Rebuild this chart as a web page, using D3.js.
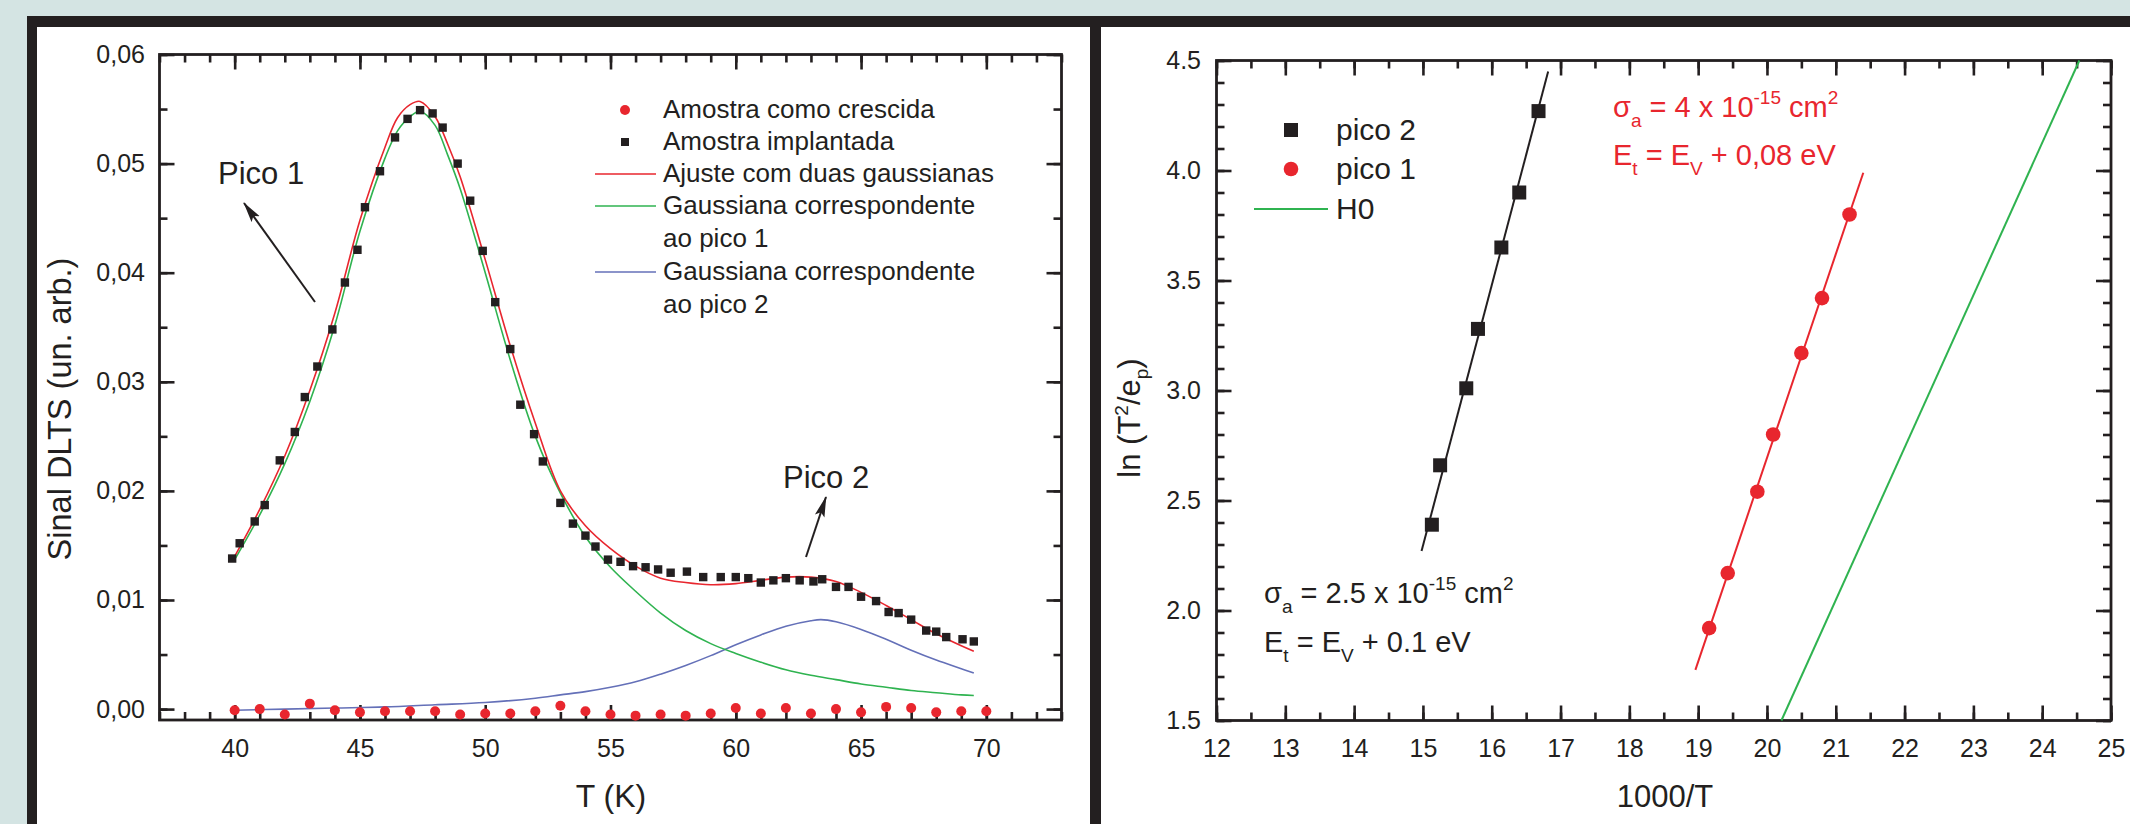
<!DOCTYPE html>
<html>
<head>
<meta charset="utf-8">
<script src="https://cdn.jsdelivr.net/npm/d3@7"></script>
<style>
  html, body { margin: 0; padding: 0; background: #d4e4e3; }
  svg { display: block; font-family: "Liberation Sans", Arial, sans-serif; }
</style>
</head>
<body>
<svg id="fig" width="2130" height="824"></svg>
<script>
// ---------- left panel data: DLTS signal vs T ----------
const tempImplant = [39.9, 40.2, 40.8, 41.2, 41.8, 42.4, 42.8, 43.3, 43.9, 44.4, 44.9, 45.2, 45.8, 46.4, 46.9,
  47.4, 47.9, 48.3, 48.9, 49.4, 49.9, 50.4, 51.0, 51.4, 51.95, 52.3, 53.0, 53.5, 54.0, 54.4, 54.9, 55.4, 55.9,
  56.4, 56.9, 57.4, 58.05, 58.7, 59.4, 60.0, 60.5, 61.0, 61.5, 62.0, 62.55, 63.1, 63.45, 64.0, 64.5, 65.0, 65.6,
  66.1, 66.5, 67.0, 67.6, 68.0, 68.4, 69.05, 69.5];
const dltsImplant = [0.0138, 0.0152, 0.0172, 0.0187, 0.0228, 0.0254, 0.0286, 0.0314, 0.0348, 0.0391, 0.0421,
  0.0460, 0.0493, 0.0524, 0.0541, 0.0549, 0.0546, 0.0533, 0.0500, 0.0466, 0.0420, 0.0373, 0.0330, 0.0279, 0.0252,
  0.0227, 0.0189, 0.0170, 0.0159, 0.0149, 0.0137, 0.0135, 0.0131, 0.0130, 0.0128, 0.0125, 0.0126, 0.0121, 0.0121,
  0.0121, 0.0120, 0.0116, 0.0118, 0.0120, 0.0118, 0.0117, 0.0119, 0.0112, 0.0112, 0.0103, 0.0099, 0.0089, 0.0088,
  0.0082, 0.0072, 0.0071, 0.0066, 0.0064, 0.0062];

const tempGrown = [40, 41, 42, 43, 44, 45, 46, 47, 48, 49, 50, 51, 52, 53, 54, 55, 56, 57, 58, 59, 60,
  61, 62, 63, 64, 65, 66, 67, 68, 69, 70];
const dltsGrown = [-0.0001, 0.0000, -0.0005, 0.0005, -0.0001, -0.0003, -0.0002, -0.0002, -0.0002, -0.0005, -0.0004,
  -0.0004, -0.0002, 0.0003, -0.0002, -0.0005, -0.0006, -0.0005, -0.0006, -0.0004, 0.0001, -0.0004, 0.0001,
  -0.0004, 0.0000, -0.0003, 0.0002, 0.0001, -0.0003, -0.0002, -0.0002];

// fit curves
const tempFit = [40, 41, 42, 43, 44, 45, 46, 46.5, 47, 47.4, 48, 48.5, 49, 50, 51, 52, 53, 54, 55, 56, 57, 58,
  59, 60, 61, 62, 63, 64, 65, 66, 67, 68, 69, 69.5];
const fitTotal = [0.0140, 0.0183, 0.0232, 0.0292, 0.0363, 0.0448, 0.0515, 0.0542, 0.0554, 0.0557, 0.0543, 0.0518,
  0.0488, 0.0412, 0.0333, 0.0262, 0.0200, 0.0168, 0.0147, 0.0131, 0.0120, 0.0116, 0.0114, 0.0115, 0.0118, 0.0121,
  0.0121, 0.0117, 0.0107, 0.0095, 0.0082, 0.0069, 0.0058, 0.0053];
const fitPico1 = [0.0137, 0.0178, 0.0225, 0.0282, 0.0352, 0.0438, 0.0505, 0.0530, 0.0543, 0.0548, 0.0535, 0.0508,
  0.0477, 0.0400, 0.0320, 0.0250, 0.0198, 0.0158, 0.0130, 0.0108, 0.0088, 0.0072, 0.0060, 0.0051, 0.0043, 0.0036,
  0.0031, 0.0027, 0.0023, 0.0020, 0.0017, 0.0015, 0.0013, 0.00125];
const tempPico2 = [40, 42, 44, 46, 48, 50, 52, 53, 54, 55, 56, 57, 58, 59, 60, 61, 62, 63, 63.4, 64, 65, 66, 67,
  68, 69, 69.5];
const fitPico2 = [-0.0001, 0.0000, 0.0001, 0.0002, 0.0004, 0.0006, 0.0010, 0.0013, 0.0016, 0.0020, 0.0025, 0.0032,
  0.0040, 0.0049, 0.0059, 0.0068, 0.0076, 0.0081, 0.0082, 0.0080, 0.0073, 0.0064, 0.0054, 0.0045, 0.0037, 0.0033];

const leftXTicks = [40, 45, 50, 55, 60, 65, 70];
const leftYTicks = [0, 0.01, 0.02, 0.03, 0.04, 0.05, 0.06];
const leftLegend = ["Amostra como crescida", "Amostra implantada", "Ajuste com duas gaussianas",
  "Gaussiana correspondente", "ao pico 1", "Gaussiana correspondente", "ao pico 2"];

// ---------- right panel data: Arrhenius plot ----------
const pico2X = [15.13, 15.25, 15.63, 15.80, 16.14, 16.40, 16.68];
const pico2Y = [2.39, 2.66, 3.01, 3.28, 3.65, 3.90, 4.27];
const pico1X = [19.16, 19.43, 19.86, 20.09, 20.50, 20.80, 21.20];
const pico1Y = [1.92, 2.17, 2.54, 2.80, 3.17, 3.42, 3.80];
const pico2FitX = [14.98, 16.82], pico2FitY = [2.27, 4.45];
const pico1FitX = [18.96, 21.40], pico1FitY = [1.73, 3.99];
const h0X = [20.21, 24.54], h0Y = [1.5, 4.5];

const rightXTicks = [12, 13, 14, 15, 16, 17, 18, 19, 20, 21, 22, 23, 24, 25];
const rightYTicks = [1.5, 2.0, 2.5, 3.0, 3.5, 4.0, 4.5];
const rightLegend = ["pico 2", "pico 1", "H0"];

// ---------- colours ----------
const INK = '#231f20';
const RED = '#e8262e';
const GREEN = '#2fb350';
const BLUE = '#6470b8';

const svg = d3.select('#fig');
const zip = (xs, ys) => xs.map((x, i) => [x, ys[i]]);

// page background and panel frames
svg.append('rect').attr('width', 2130).attr('height', 824).attr('fill', '#d4e4e3');
svg.append('rect').attr('x', 27).attr('y', 16).attr('width', 2103).attr('height', 808).attr('fill', INK);
svg.append('rect').attr('x', 37).attr('y', 27).attr('width', 1053).attr('height', 797).attr('fill', '#fff');
svg.append('rect').attr('x', 1101).attr('y', 27).attr('width', 1029).attr('height', 797).attr('fill', '#fff');

// arrow head
svg.append('defs').append('marker')
  .attr('id', 'arrow').attr('markerUnits', 'userSpaceOnUse')
  .attr('markerWidth', 22).attr('markerHeight', 12)
  .attr('refX', 20).attr('refY', 6).attr('orient', 'auto')
  .append('path').attr('d', 'M0,1 L21,6 L0,11 L4,6 Z').attr('fill', INK);

// draws the boxed axes with inward ticks
function drawAxes(g, x, y, xMajor, xMinor, yMajor, yMinor, xFmt, yFmt, yPad) {
  const [x0, x1] = x.range();
  const [y0, y1] = y.range();
  const style = sel => {
    sel.select('.domain').remove();
    sel.selectAll('line').attr('stroke', INK).attr('stroke-width', 2.6);
    sel.attr('font-family', null).attr('font-size', 25);
    sel.selectAll('text').attr('fill', INK);
  };
  // minor ticks on all four sides
  g.append('g').attr('transform', `translate(0,${y0})`)
    .call(d3.axisBottom(x).tickValues(xMinor).tickSize(-8).tickFormat('')).call(style);
  g.append('g').attr('transform', `translate(0,${y1})`)
    .call(d3.axisTop(x).tickValues(xMinor).tickSize(-8).tickFormat('')).call(style);
  g.append('g').attr('transform', `translate(${x0},0)`)
    .call(d3.axisLeft(y).tickValues(yMinor).tickSize(-8).tickFormat('')).call(style);
  g.append('g').attr('transform', `translate(${x1},0)`)
    .call(d3.axisRight(y).tickValues(yMinor).tickSize(-8).tickFormat('')).call(style);
  // major ticks
  g.append('g').attr('transform', `translate(0,${y0})`)
    .call(d3.axisBottom(x).tickValues(xMajor).tickSize(-15).tickPadding(19).tickFormat(xFmt)).call(style);
  g.append('g').attr('transform', `translate(0,${y1})`)
    .call(d3.axisTop(x).tickValues(xMajor).tickSize(-15).tickFormat('')).call(style);
  g.append('g').attr('transform', `translate(${x0},0)`)
    .call(d3.axisLeft(y).tickValues(yMajor).tickSize(-15).tickPadding(yPad).tickFormat(yFmt)).call(style);
  g.append('g').attr('transform', `translate(${x1},0)`)
    .call(d3.axisRight(y).tickValues(yMajor).tickSize(-15).tickFormat('')).call(style);
  // frame
  g.append('rect')
    .attr('x', x0).attr('y', y1).attr('width', x1 - x0).attr('height', y0 - y1)
    .attr('fill', 'none').attr('stroke', INK).attr('stroke-width', 2.8);
}

// ================= LEFT PANEL =================
const xL = d3.scaleLinear().domain([37, 73]).range([159.5, 1061.5]);
const yL = d3.scaleLinear().domain([-0.001, 0.06]).range([720, 54.5]);
const gL = svg.append('g');

drawAxes(gL, xL, yL, leftXTicks, d3.range(37, 73.5, 1), leftYTicks, d3.range(0, 0.0601, 0.005),
  d => d, d => d3.format('.2f')(d).replace('.', ','), 14.5);

const lineL = d3.line().x(d => xL(d[0])).y(d => yL(d[1])).curve(d3.curveCatmullRom);
gL.append('path').datum(zip(tempPico2, fitPico2)).attr('d', lineL)
  .attr('fill', 'none').attr('stroke', BLUE).attr('stroke-width', 1.6);
gL.append('path').datum(zip(tempFit, fitPico1)).attr('d', lineL)
  .attr('fill', 'none').attr('stroke', GREEN).attr('stroke-width', 1.6);
gL.append('path').datum(zip(tempFit, fitTotal)).attr('d', lineL)
  .attr('fill', 'none').attr('stroke', RED).attr('stroke-width', 1.6);

gL.selectAll('circle.grown').data(zip(tempGrown, dltsGrown)).join('circle')
  .attr('class', 'grown')
  .attr('cx', d => xL(d[0])).attr('cy', d => yL(d[1])).attr('r', 5).attr('fill', RED);
gL.selectAll('rect.impl').data(zip(tempImplant, dltsImplant)).join('rect')
  .attr('class', 'impl')
  .attr('x', d => xL(d[0]) - 4.2).attr('y', d => yL(d[1]) - 4.2)
  .attr('width', 8.4).attr('height', 8.4).attr('fill', INK);

// axis titles
gL.append('text').attr('x', 611).attr('y', 807).attr('text-anchor', 'middle')
  .attr('font-size', 32).attr('fill', INK).text('T (K)');
gL.append('text').attr('transform', 'translate(71,409) rotate(-90)').attr('text-anchor', 'middle')
  .attr('font-size', 32.5).attr('fill', INK).text('Sinal DLTS (un. arb.)');

// legend
const legL = gL.append('g').attr('font-size', 26).attr('fill', INK);
const legRowY = [110, 142, 174, 206, 239, 272, 305];
leftLegend.forEach((t, i) => {
  legL.append('text').attr('x', 663).attr('y', legRowY[i] + 8).text(t);
});
legL.append('circle').attr('cx', 625).attr('cy', legRowY[0]).attr('r', 5).attr('fill', RED);
legL.append('rect').attr('x', 621).attr('y', legRowY[1] - 4).attr('width', 8).attr('height', 8).attr('fill', INK);
[[2, RED], [3, GREEN], [5, BLUE]].forEach(([i, c]) => {
  legL.append('line').attr('x1', 595).attr('x2', 656).attr('y1', legRowY[i]).attr('y2', legRowY[i])
    .attr('stroke', c).attr('stroke-width', 1.6);
});

// peak annotations
gL.append('text').attr('x', 218).attr('y', 184).attr('font-size', 31).attr('fill', INK).text('Pico 1');
gL.append('line').attr('x1', 315).attr('y1', 302).attr('x2', 244).attr('y2', 203)
  .attr('stroke', INK).attr('stroke-width', 2).attr('marker-end', 'url(#arrow)');
gL.append('text').attr('x', 783).attr('y', 488).attr('font-size', 31).attr('fill', INK).text('Pico 2');
gL.append('line').attr('x1', 806).attr('y1', 557).attr('x2', 826).attr('y2', 497)
  .attr('stroke', INK).attr('stroke-width', 2).attr('marker-end', 'url(#arrow)');

// ================= RIGHT PANEL =================
const xR = d3.scaleLinear().domain([12, 25]).range([1216.5, 2111]);
const yR = d3.scaleLinear().domain([1.5, 4.5]).range([720.5, 60.5]);
const gR = svg.append('g');

drawAxes(gR, xR, yR, rightXTicks, d3.range(12, 25.01, 0.5), rightYTicks, d3.range(1.5, 4.501, 0.1),
  d => d, d => d3.format('.1f')(d), 15.5);

const lineR = d3.line().x(d => xR(d[0])).y(d => yR(d[1]));
gR.append('path').datum(zip(h0X, h0Y)).attr('d', lineR)
  .attr('fill', 'none').attr('stroke', GREEN).attr('stroke-width', 2);
gR.append('path').datum(zip(pico2FitX, pico2FitY)).attr('d', lineR)
  .attr('fill', 'none').attr('stroke', INK).attr('stroke-width', 2);
gR.append('path').datum(zip(pico1FitX, pico1FitY)).attr('d', lineR)
  .attr('fill', 'none').attr('stroke', RED).attr('stroke-width', 2);

gR.selectAll('rect.p2').data(zip(pico2X, pico2Y)).join('rect')
  .attr('class', 'p2')
  .attr('x', d => xR(d[0]) - 7).attr('y', d => yR(d[1]) - 7)
  .attr('width', 14).attr('height', 14).attr('fill', INK);
gR.selectAll('circle.p1').data(zip(pico1X, pico1Y)).join('circle')
  .attr('class', 'p1')
  .attr('cx', d => xR(d[0])).attr('cy', d => yR(d[1])).attr('r', 7.3).attr('fill', RED);

// axis titles
gR.append('text').attr('x', 1665).attr('y', 807).attr('text-anchor', 'middle')
  .attr('font-size', 31).attr('fill', INK).text('1000/T');
const yTitle = gR.append('text').attr('transform', 'translate(1140,418) rotate(-90)')
  .attr('text-anchor', 'middle').attr('font-size', 31).attr('fill', INK);
yTitle.append('tspan').text('ln (T');
yTitle.append('tspan').attr('font-size', 19).attr('dy', -12).text('2');
yTitle.append('tspan').attr('dy', 12).text('/e');
yTitle.append('tspan').attr('font-size', 19).attr('dy', 8).text('p');
yTitle.append('tspan').attr('dy', -8).text(')');

// legend
const legR = gR.append('g').attr('font-size', 30).attr('fill', INK);
const legRY = [130, 169, 209];
rightLegend.forEach((t, i) => {
  legR.append('text').attr('x', 1336).attr('y', legRY[i] + 10).text(t);
});
legR.append('rect').attr('x', 1284).attr('y', legRY[0] - 7).attr('width', 14).attr('height', 14).attr('fill', INK);
legR.append('circle').attr('cx', 1291).attr('cy', legRY[1]).attr('r', 7.3).attr('fill', RED);
legR.append('line').attr('x1', 1254).attr('x2', 1328).attr('y1', legRY[2]).attr('y2', legRY[2])
  .attr('stroke', GREEN).attr('stroke-width', 2);

// annotations with sub/superscripts
function sigmaLine(g, x, y, color, value) {
  const t = g.append('text').attr('x', x).attr('y', y).attr('font-size', 29).attr('fill', color);
  t.append('tspan').text('σ');
  t.append('tspan').attr('font-size', 19).attr('dy', 10).text('a');
  t.append('tspan').attr('dy', -10).text(` = ${value} x 10`);
  t.append('tspan').attr('font-size', 19).attr('dy', -13).text('-15');
  t.append('tspan').attr('dy', 13).text(' cm');
  t.append('tspan').attr('font-size', 19).attr('dy', -13).text('2');
}
function energyLine(g, x, y, color, value) {
  const t = g.append('text').attr('x', x).attr('y', y).attr('font-size', 29).attr('fill', color);
  t.append('tspan').text('E');
  t.append('tspan').attr('font-size', 19).attr('dy', 10).text('t');
  t.append('tspan').attr('dy', -10).text(' = E');
  t.append('tspan').attr('font-size', 19).attr('dy', 10).text('V');
  t.append('tspan').attr('dy', -10).text(` + ${value} eV`);
}
sigmaLine(gR, 1613, 117, RED, '4');
energyLine(gR, 1613, 165, RED, '0,08');
sigmaLine(gR, 1264, 603, INK, '2.5');
energyLine(gR, 1264, 652, INK, '0.1');
</script>
</body>
</html>
